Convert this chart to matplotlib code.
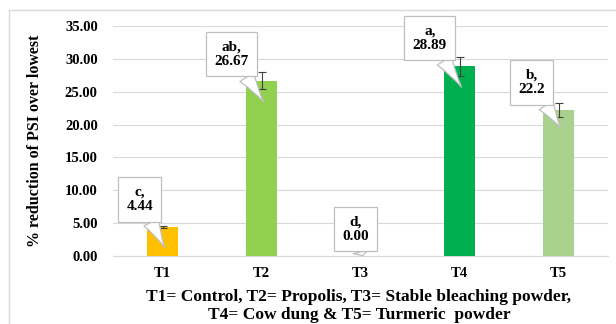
import matplotlib
matplotlib.use("Agg")
import matplotlib.pyplot as plt
from matplotlib.lines import Line2D

treatments = ["T1", "T2", "T3", "T4", "T5"]
values = [4.44, 26.67, 0.00, 28.89, 22.2]
errors = [0.2, 1.3, 0.0, 1.45, 1.1]
letters = ["c", "ab", "d", "a", "b"]
value_text = ["4.44", "26.67", "0.00", "28.89", "22.2"]
colors = ["#FFC000", "#92D050", "#00B050", "#00B050", "#A9D18E"]

# callout box centres (offset from bar centre in x, absolute y in data units)
box_dx = [-0.23, -0.30, -0.05, -0.30, -0.27]
box_y = [8.6, 30.7, 4.1, 33.2, 26.4]
tip_y_frac = [0.3, 0.88, 0.0, 0.89, 0.88]

serif = ["Liberation Serif", "DejaVu Serif"]
plt.rcParams["font.family"] = serif
plt.rcParams["font.weight"] = "bold"

fig = plt.figure(figsize=(6.16, 3.24), dpi=100)
ax = fig.add_axes([113 / 616, 1 - 256 / 324, 495 / 616, 230 / 324])

x = list(range(len(treatments)))
ax.bar(x, values, width=0.31, color=colors, zorder=3)
ax.errorbar([i for i in x if errors[i] > 0], [values[i] for i in x if errors[i] > 0],
            yerr=[errors[i] for i in x if errors[i] > 0], fmt="none",
            ecolor="#404040", elinewidth=0.8, capsize=3, capthick=0.8, zorder=4)

for i in x:
    tip = (i + 0.02, values[i] * tip_y_frac[i])
    ax.annotate(f"{letters[i]},\n{value_text[i]}", xy=tip,
                xytext=(i + box_dx[i], box_y[i]),
                ha="center", va="center", fontsize=11, fontweight="bold",
                linespacing=1.15, zorder=6,
                bbox=dict(boxstyle="square,pad=0.55", fc="white", ec="#BFBFBF", lw=0.9),
                arrowprops=dict(arrowstyle="wedge,tail_width=1.1,shrink_factor=0.4",
                                fc="white", ec="#BFBFBF", lw=0.9,
                                shrinkA=0, shrinkB=0))

ax.set_xlim(-0.5, len(treatments) - 0.5)
ax.set_ylim(0, 35)
ax.set_yticks([0, 5, 10, 15, 20, 25, 30, 35])
ax.set_yticklabels([f"{v:.2f}" for v in ax.get_yticks()])
ax.set_xticks(x)
ax.set_xticklabels(treatments)
ax.tick_params(length=0, labelsize=10.5, pad=11)
for lab in ax.get_xticklabels() + ax.get_yticklabels():
    lab.set_fontweight("bold")
ax.tick_params(axis="x", pad=8)
ax.grid(axis="y", color="#D9D9D9", lw=0.8, zorder=0)
for s in ["top", "right", "left"]:
    ax.spines[s].set_visible(False)
ax.spines["bottom"].set_color("#D9D9D9")

ax.set_ylabel("% reduction of PSI over lowest", fontsize=11.5, fontweight="bold", labelpad=16)

fig.text(359 / 616, 1 - 297 / 324, "T1= Control, T2= Propolis, T3= Stable bleaching powder,",
         ha="center", va="center", fontsize=12.5, fontweight="bold")
fig.text(359 / 616, 1 - 315 / 324, "T4= Cow dung & T5= Turmeric  powder",
         ha="center", va="center", fontsize=12.5, fontweight="bold")

# outer chart border
fig.add_artist(Line2D([9 / 616, 1], [1 - 10 / 324] * 2, color="#D9D9D9", lw=1))
fig.add_artist(Line2D([9 / 616] * 2, [0, 1 - 10 / 324], color="#D9D9D9", lw=1))

fig.savefig("out.png", dpi=100)
